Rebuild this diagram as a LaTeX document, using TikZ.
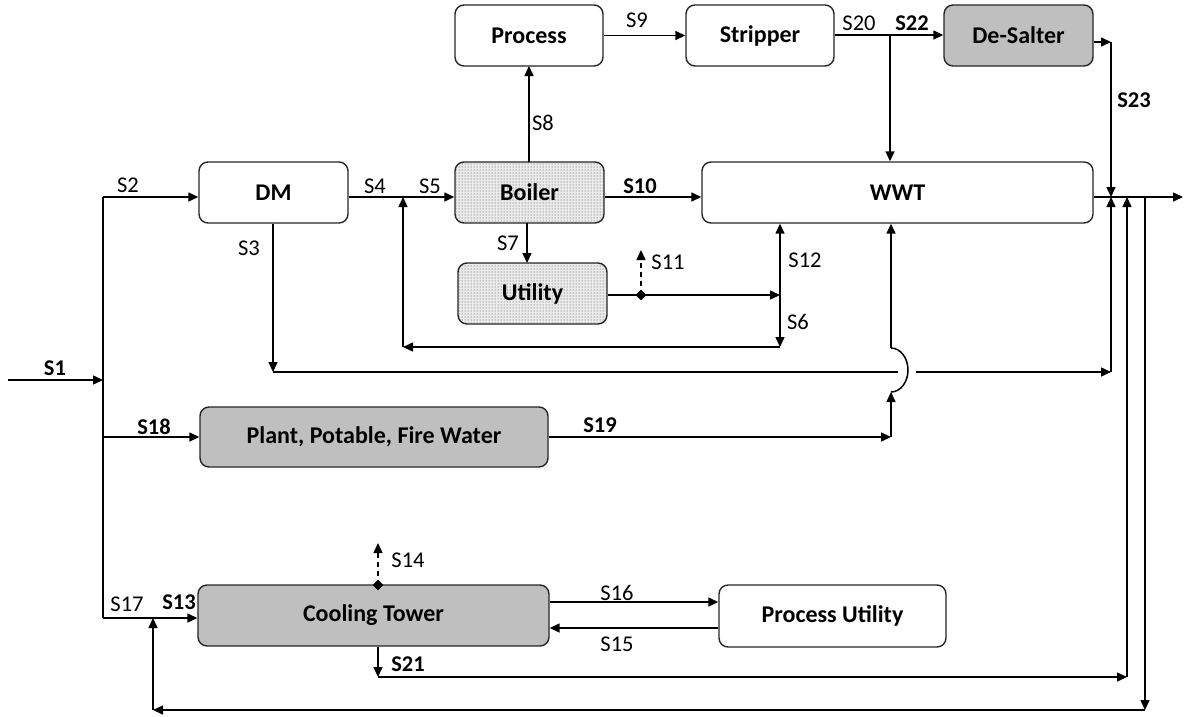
\documentclass[tikz,border=0pt]{standalone}
\usepackage{fontspec}
\setmainfont{Carlito}
\usetikzlibrary{arrows.meta,patterns,shapes.geometric}
\tikzset{
  box/.style={draw=black!85, line width=1.4pt, rounded corners=9pt, fill=white, font=\fontsize{24}{26}\selectfont\bfseries, inner sep=0pt},
  graybox/.style={box, fill=black!25},
  dotbox/.style={box, fill=black!8, postaction={pattern=dots, pattern color=black!75}},
  ln/.style={line width=1.5pt, black},
  arr/.style={ln, -{Triangle[length=10pt,width=9pt]}},
  darr/.style={arr, dash pattern=on 5pt off 4pt},
  lab/.style={font=\fontsize{22.5}{24}\selectfont, inner sep=0pt},
  blab/.style={lab, font=\fontsize{22.5}{24}\selectfont\bfseries},
  dia/.style={diamond, fill=black, inner sep=0pt, minimum size=11pt}
}
\begin{document}
\begin{tikzpicture}[x=1pt,y=-1pt]
\useasboundingbox (0,0) rectangle (1184,716);
% boxes
\node[box, minimum width=148pt, minimum height=61pt] (process) at (529,35.5) {Process};
\node[box, minimum width=148pt, minimum height=61pt] (stripper) at (760,35.5) {Stripper};
\node[graybox, minimum width=149pt, minimum height=61pt] (desalter) at (1018.5,35.5) {De-Salter};
\node[box, minimum width=149pt, minimum height=61pt] (dm) at (273.5,192.5) {DM};
\node[dotbox, minimum width=149pt, minimum height=61pt] (boiler) at (529.5,192.5) {Boiler};
\node[box, minimum width=391pt, minimum height=61pt] (wwt) at (897.5,192.5) {WWT};
\node[dotbox, minimum width=149pt, minimum height=61pt] (utility) at (532.5,293.5) {Utility};
\node[graybox, minimum width=348pt, minimum height=60pt] (plant) at (374,437) {Plant, Potable, Fire Water};
\node[graybox, minimum width=351pt, minimum height=61pt] (ct) at (373.5,615.5) {Cooling Tower};
\node[box, minimum width=227pt, minimum height=62pt] (pu) at (832.5,616) {Process Utility};
% coordinates
\coordinate (in) at (8,380);
\coordinate (j1) at (103,380);
\coordinate (jtop) at (103,197);
\coordinate (j18) at (103,437);
\coordinate (jbot) at (103,618);
\coordinate (j45) at (403,197);
\coordinate (j6) at (403,347);
\coordinate (j12) at (780,295);
\coordinate (j6b) at (780,347);
\coordinate (d11) at (641,295);
\coordinate (t11) at (641,250);
\coordinate (j3a) at (273,372);
\coordinate (gapL) at (898,372);
\coordinate (gapR) at (916,372);
\coordinate (j3b) at (1111,372);
\coordinate (o1) at (1111,197);
\coordinate (o2) at (1127,197);
\coordinate (o3) at (1145,197);
\coordinate (out) at (1183,197);
\coordinate (ds) at (1111,42);
\coordinate (js) at (890,35);
\coordinate (b8) at (529,162);
\coordinate (p8) at (529,66);
\coordinate (b7) at (527,223);
\coordinate (u7) at (527,263);
\coordinate (j19) at (891,437);
\coordinate (arcB) at (891,392);
\coordinate (arcT) at (891,348);
\coordinate (d14) at (378,585);
\coordinate (t14) at (378,543);
\coordinate (j21a) at (378,677);
\coordinate (j21b) at (1127,677);
\coordinate (jr1) at (1145,710);
\coordinate (jr2) at (153,710);
\coordinate (jr3) at (153,618);
% connectors
\draw[arr] (in) -- (j1);
\draw[ln] (jtop) -- (jbot);
\draw[arr] (jtop) -- (dm.west |- jtop);
\draw[arr] (dm.east |- jtop) -- (boiler.west |- jtop);
\draw[arr] (b8) -- (p8);
\draw[arr] (process.east) -- (stripper.west);
\draw[arr] (stripper.east |- js) -- (desalter.west |- js);
\draw[arr] (js) -- (wwt.north -| js);
\draw[arr] (desalter.east |- ds) -- (ds);
\draw[arr] (ds) -- (o1);
\draw[arr] (boiler.east |- jtop) -- (wwt.west |- jtop);
\draw[arr] (wwt.east |- o1) -- (out);
\draw[arr] (b7) -- (u7);
\draw[arr] (utility.east |- j12) -- (j12);
\draw[darr] (d11) -- (t11);
\node[dia] (dd11) at (d11) {};
\draw[arr] (j12) -- (wwt.south -| j12);
\draw[arr] (j12) -- (j6b);
\draw[arr] (j6b) -- (j6);
\draw[arr] (j6) -- (j45);
\draw[arr] (dm.south -| j3a) -- (j3a);
\draw[ln] (j3a) -- (gapL);
\draw[arr] (gapR) -- (j3b);
\draw[arr] (j3b) -- (o1);
\draw[arr] (j18) -- (plant.west |- j18);
\draw[arr] (plant.east |- j19) -- (j19);
\draw[arr] (j19) -- (arcB);
\draw[ln] (arcT) arc[start angle=-90, end angle=90, x radius=17, y radius=22];
\draw[arr] (arcT) -- (wwt.south -| arcT);
\draw[arr] (jbot) -- (ct.west |- jbot);
\draw[darr] (d14) -- (t14);
\node[dia] (dd14) at (d14) {};
\draw[arr] (ct.east |- 0,602) -- (pu.west |- 0,602);
\draw[arr] (pu.west |- 0,628) -- (ct.east |- 0,628);
\draw[arr] (ct.south -| d14) -- (j21a);
\draw[arr] (j21a) -- (j21b);
\draw[arr] (j21b) -- (o2);
\draw[arr] (o3) -- (jr1);
\draw[arr] (jr1) -- (jr2);
\draw[arr] (jr2) -- (jr3);
% labels
\node[blab] (l1) at (55,368) {S1};
\node[lab] (l2) at (128,185) {S2};
\node[lab] (l3) at (249,248) {S3};
\node[lab] (l4) at (375,186) {S4};
\node[lab] (l5) at (430,186) {S5};
\node[lab] (l6) at (798,322) {S6};
\node[lab] (l7) at (508,243) {S7};
\node[lab] (l8) at (543,123) {S8};
\node[lab] (l9) at (637,20) {S9};
\node[blab] (l10) at (640,186) {S10};
\node[lab] (l11) at (668,262) {S11};
\node[lab] (l12) at (805,260) {S12};
\node[blab] (l13) at (179,602) {S13};
\node[lab] (l14) at (408,560) {S14};
\node[lab] (l15) at (617,644) {S15};
\node[lab] (l16) at (617,593) {S16};
\node[lab] (l17) at (127,604) {S17};
\node[blab] (l18) at (154,427) {S18};
\node[blab] (l19) at (600,425) {S19};
\node[lab] (l20) at (859,23) {S20};
\node[blab] (l21) at (408,664) {S21};
\node[blab] (l22) at (912,23) {S22};
\node[blab] (l23) at (1134,100) {S23};
\end{tikzpicture}
\end{document}
